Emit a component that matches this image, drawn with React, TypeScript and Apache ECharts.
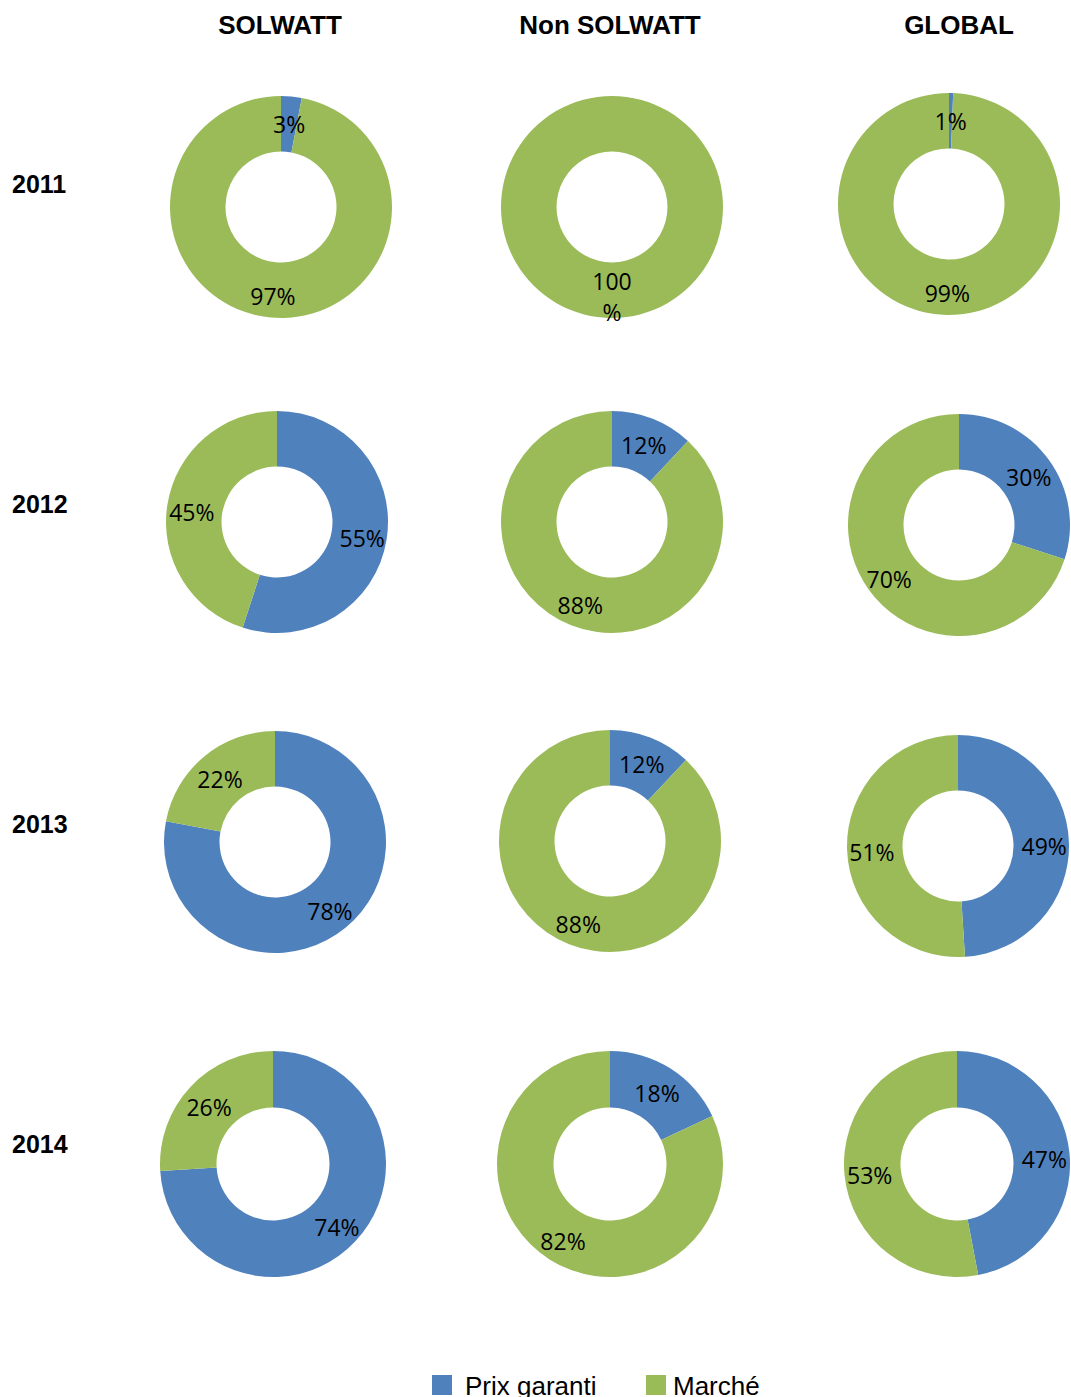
import React, { useEffect, useRef } from "react";
import * as echarts from "echarts";

const seriesNames = ["Prix garanti", "Marché"];
const colors = ["#4F81BD", "#9BBB59"];
const columns = ["SOLWATT", "Non SOLWATT", "GLOBAL"];
const years = ["2011", "2012", "2013", "2014"];

// Prix garanti / Marché shares (%) per year, per column
const solwattPrix = [3, 55, 78, 74];
const solwattMarche = [97, 45, 22, 26];
const nonSolwattPrix = [0, 12, 12, 18];
const nonSolwattMarche = [100, 88, 88, 82];
const globalPrix = [0.6, 30, 49, 47];
const globalMarche = [99.4, 70, 51, 53];

const prixByCol = [solwattPrix, nonSolwattPrix, globalPrix];
const marcheByCol = [solwattMarche, nonSolwattMarche, globalMarche];

// layout
const centers = [
  [[281, 207], [612, 207], [949, 204]],
  [[277, 522], [612, 522], [959, 525]],
  [[275, 842], [610, 841], [958, 846]],
  [[273, 1164], [610, 1164], [957, 1164]],
];
const outerR = [111, 111, 111, 113];
const colTitleX = [280, 610, 959];
const yearY = [184, 504, 824, 1144];

export default function App() {
  const ref = useRef<HTMLDivElement>(null);
  useEffect(() => {
    if (!ref.current) return;
    const chart = echarts.init(ref.current, undefined, { renderer: "svg" });
    const series: any[] = [];
    years.forEach((y, ri) => {
      columns.forEach((c, ci) => {
        const vals = [prixByCol[ci][ri], marcheByCol[ci][ri]];
        series.push({
          type: "pie",
          name: `${c} ${y}`,
          center: centers[ri][ci],
          radius: [outerR[ri] / 2, outerR[ri]],
          startAngle: 90,
          clockwise: true,
          avoidLabelOverlap: false,
          silent: true,
          itemStyle: { borderWidth: 0 },
          label: {
            show: true,
            position: "inside",
            color: "#000",
            fontFamily: "Open Sans",
            fontSize: 23,
            lineHeight: 31,
            offset: [0, 3],
            formatter: (p: any) => {
              const r = Math.round(p.value);
              if (r === 0) return "";
              if (r === 100) return "100\n%";
              return `${r}%`;
            },
          },
          labelLine: { show: false },
          data: vals.map((v, i) => ({
            name: seriesNames[i],
            value: v,
            itemStyle: { color: colors[i] },
          })),
        });
      });
    });

    const graphic: any[] = [];
    columns.forEach((c, ci) => {
      graphic.push({
        type: "text",
        x: colTitleX[ci],
        y: 25,
        style: {
          text: c,
          align: "center",
          verticalAlign: "middle",
          fontFamily: "Liberation Sans, Arial",
          fontWeight: "bold",
          fontSize: 26,
          fill: "#000",
        },
      });
    });
    years.forEach((y, ri) => {
      graphic.push({
        type: "text",
        x: 12,
        y: yearY[ri],
        style: {
          text: y,
          align: "left",
          verticalAlign: "middle",
          fontFamily: "Liberation Sans, Arial",
          fontWeight: "bold",
          fontSize: 25,
          fill: "#000",
        },
      });
    });
    const legendX = [432, 646];
    seriesNames.forEach((n, i) => {
      graphic.push({
        type: "rect",
        shape: { x: legendX[i], y: 1375, width: 20, height: 20 },
        style: { fill: colors[i] },
      });
      graphic.push({
        type: "text",
        x: legendX[i] + 33 - (i === 1 ? 6 : 0),
        y: 1386,
        style: {
          text: n,
          align: "left",
          verticalAlign: "middle",
          fontFamily: "Liberation Sans, Arial",
          fontSize: 26,
          fill: "#000",
        },
      });
    });

    chart.setOption({
      animation: false,
      backgroundColor: "#fff",
      series,
      graphic,
    });
    return () => chart.dispose();
  }, []);
  return (
    <div
      ref={ref}
      style={{ position: "absolute", left: 0, top: 0, width: 1071, height: 1397 }}
    />
  );
}
